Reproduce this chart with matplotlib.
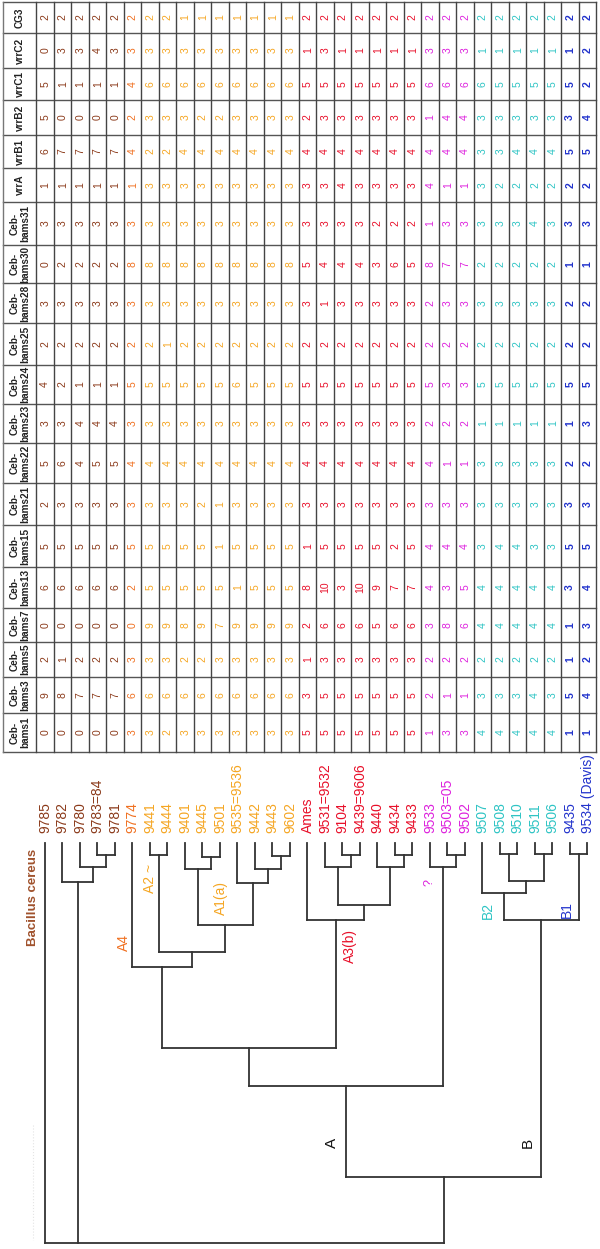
import numpy as np
import matplotlib.pyplot as plt

plt.rcParams['font.family'] = ['Liberation Sans', 'DejaVu Sans']

# strains (table columns, left to right) and their clade
strains = ['9785', '9782', '9780', '9783=84', '9781', '9774',
           '9441', '9444', '9401', '9445', '9501', '9535=9536', '9442', '9443', '9602',
           'Ames', '9531=9532', '9104', '9439=9606', '9440', '9434', '9433',
           '9533', '9503=05', '9502',
           '9507', '9508', '9510', '9511', '9506',
           '9435', '9534 (Davis)']
groups = ['cereus'] * 5 + ['A4'] + ['A1A2'] * 9 + ['A3'] * 7 + ['Q'] * 3 + ['B2'] * 5 + ['B1'] * 2

# table rows, top to bottom
markers = ['CG3', 'vrrC2', 'vrrC1', 'vrrB2', 'vrrB1', 'vrrA',
           'Ceb-\nbams31', 'Ceb-\nbams30', 'Ceb-\nbams28', 'Ceb-\nbams25', 'Ceb-\nbams24',
           'Ceb-\nbams23', 'Ceb-\nbams22', 'Ceb-\nbams21', 'Ceb-\nbams15', 'Ceb-\nbams13',
           'Ceb-\nbams7', 'Ceb-\nbams5', 'Ceb-\nbams3', 'Ceb-\nbams1']

cg3 =    [2, 2, 2, 2, 2, 2, 2, 2, 1, 1, 1, 1, 1, 1, 1, 2, 2, 2, 2, 2, 2, 2, 2, 2, 2, 2, 2, 2, 2, 2, 2, 2]
vrrc2 =  [0, 3, 3, 4, 3, 3, 3, 3, 3, 3, 3, 3, 3, 3, 3, 1, 3, 1, 1, 1, 1, 1, 3, 3, 3, 1, 1, 1, 1, 1, 1, 2]
vrrc1 =  [5, 1, 1, 1, 1, 4, 6, 6, 6, 6, 6, 6, 6, 6, 6, 5, 5, 5, 5, 5, 5, 5, 6, 6, 6, 6, 5, 5, 5, 5, 5, 2]
vrrb2 =  [5, 0, 0, 0, 0, 2, 3, 3, 3, 2, 2, 3, 3, 3, 3, 2, 3, 3, 3, 3, 3, 3, 1, 4, 4, 3, 3, 3, 3, 3, 3, 4]
vrrb1 =  [6, 7, 7, 7, 7, 4, 2, 2, 4, 4, 4, 4, 4, 4, 4, 4, 4, 4, 4, 4, 4, 4, 4, 4, 4, 3, 3, 4, 4, 4, 5, 5]
vrra =   [1, 1, 1, 1, 1, 1, 3, 3, 3, 3, 3, 3, 3, 3, 3, 3, 3, 4, 3, 3, 3, 3, 4, 1, 1, 3, 2, 2, 2, 2, 2, 2]
bams31 = [3, 3, 3, 3, 3, 3, 3, 3, 3, 3, 3, 3, 3, 3, 3, 3, 3, 3, 3, 2, 2, 2, 1, 3, 3, 3, 3, 3, 4, 3, 3, 3]
bams30 = [0, 2, 2, 2, 2, 8, 8, 8, 8, 8, 8, 8, 8, 8, 8, 5, 4, 4, 4, 3, 6, 5, 8, 7, 7, 2, 2, 2, 2, 2, 1, 1]
bams28 = [3, 3, 3, 3, 3, 3, 3, 3, 3, 3, 3, 3, 3, 3, 3, 3, 1, 3, 3, 3, 3, 3, 2, 3, 3, 3, 3, 3, 3, 3, 2, 2]
bams25 = [2, 2, 2, 2, 2, 2, 2, 1, 2, 2, 2, 2, 2, 2, 2, 2, 2, 2, 2, 2, 2, 2, 2, 2, 2, 2, 2, 2, 2, 2, 2, 2]
bams24 = [4, 2, 1, 1, 1, 5, 5, 5, 5, 5, 5, 6, 5, 5, 5, 5, 5, 5, 5, 5, 5, 5, 5, 3, 3, 5, 5, 5, 5, 5, 5, 5]
bams23 = [3, 3, 4, 4, 4, 3, 3, 3, 3, 3, 3, 3, 3, 3, 3, 3, 3, 3, 3, 3, 3, 3, 2, 2, 2, 1, 1, 1, 1, 1, 1, 3]
bams22 = [5, 6, 4, 5, 5, 4, 4, 4, 4, 4, 4, 4, 4, 4, 4, 4, 4, 4, 4, 4, 4, 4, 4, 1, 1, 3, 3, 3, 3, 3, 2, 2]
bams21 = [2, 3, 3, 3, 3, 3, 3, 3, 3, 2, 1, 3, 3, 3, 3, 3, 3, 3, 3, 3, 3, 3, 3, 3, 3, 3, 3, 3, 3, 3, 3, 3]
bams15 = [5, 5, 5, 5, 5, 5, 5, 5, 5, 5, 1, 5, 5, 5, 5, 1, 5, 5, 5, 5, 2, 5, 4, 4, 4, 3, 4, 4, 3, 3, 5, 5]
bams13 = [6, 6, 6, 6, 6, 2, 5, 5, 5, 5, 5, 1, 5, 5, 5, 8, 10, 3, 10, 9, 7, 7, 4, 3, 5, 4, 4, 4, 4, 4, 3, 4]
bams7 =  [0, 0, 0, 0, 0, 0, 9, 9, 8, 9, 7, 9, 9, 9, 9, 2, 6, 6, 6, 5, 6, 6, 3, 8, 6, 4, 4, 4, 4, 4, 1, 3]
bams5 =  [2, 1, 2, 2, 2, 3, 3, 3, 2, 2, 3, 3, 3, 3, 3, 1, 3, 3, 3, 3, 3, 3, 2, 2, 2, 2, 2, 2, 2, 2, 1, 2]
bams3 =  [9, 8, 7, 7, 7, 6, 6, 6, 6, 6, 6, 6, 6, 6, 6, 3, 5, 5, 5, 5, 5, 5, 2, 1, 1, 3, 3, 3, 4, 3, 5, 4]
bams1 =  [0, 0, 0, 0, 0, 3, 3, 2, 3, 3, 3, 3, 3, 3, 3, 5, 5, 5, 5, 5, 5, 5, 1, 3, 3, 4, 4, 4, 4, 4, 1, 1]
table = [cg3, vrrc2, vrrc1, vrrb2, vrrb1, vrra, bams31, bams30, bams28, bams25, bams24,
         bams23, bams22, bams21, bams15, bams13, bams7, bams5, bams3, bams1]

# dendrogram: (children, merge distance)
brown = (['9782', (['9780', (['9783=84', '9781'], 3)], 6)], 9.75)
a1 = ([(['9401', (['9445', '9501'], 3.5)], 6.5),
       (['9535=9536', (['9442', (['9443', '9602'], 3.25)], 6.5)], 10)], 20.5)
a4 = (['9774', ([(['9441', '9444'], 3), a1], 27.25)], 31)
a3 = (['Ames', ([(['9531=9532', (['9104', '9439=9606'], 3)], 6),
                 (['9440', (['9434', '9433'], 3)], 6)], 15.5)], 19.25)
qgrp = (['9533', (['9503=05', '9502'], 3)], 6)
clade_a = ([([a4, a3], 51.25), qgrp], 60.75)
b2 = (['9507', ([(['9508', '9510'], 2.75), (['9511', '9506'], 2.75)], 9.5)], 12.5)
b1 = (['9435', '9534 (Davis)'], 2.75)
clade_b = ([b2, b1], 19.25)
tree = (['9785', brown, ([clade_a, clade_b], 83.5)], 100)

colors = {'cereus': '#8b3a1a', 'A4': '#f07020', 'A1A2': '#f5a623', 'A3': '#e8102a',
          'Q': '#dd22dd', 'B2': '#2ec4c4', 'B1': '#2233cc'}

# layout (pixels)
W, H = 600, 1249
TX0, HX, PITCH = 3, 36, 17.5
row_edges = [2, 33, 68, 100, 135, 168, 202, 245, 283, 323, 365, 404, 443, 483,
             525, 567, 608, 642, 677, 713, 752]
LEAF_Y, DSCALE, LABEL_Y = 843, 4.0, 833
LINE = '#333333'

fig = plt.figure(figsize=(W / 100, H / 100), dpi=100)
ax = fig.add_axes([0, 0, 1, 1])
ax.set_xlim(0, W)
ax.set_ylim(H, 0)
ax.axis('off')

n = len(strains)
xc = {s: HX + PITCH * (i + 0.5) for i, s in enumerate(strains)}
xr = HX + PITCH * n

# table grid
for y in row_edges:
    ax.plot([TX0, xr], [y, y], color='#555555', lw=1.0)
ax.plot([TX0, TX0], [row_edges[0], row_edges[-1]], color='#777777', lw=1.0)
for i in range(n + 1):
    x = HX + PITCH * i
    ax.plot([x, x], [row_edges[0], row_edges[-1]], color='#444444', lw=1.0)

for r, (m, vals) in enumerate(zip(markers, table)):
    yc = (row_edges[r] + row_edges[r + 1]) / 2
    ax.text((TX0 + HX) / 2 + 0.5, yc, m, rotation=90, ha='center', va='center',
            fontsize=7.2, fontweight='bold', color='#222222', linespacing=1.0)
    for i, v in enumerate(vals):
        g = groups[i]
        ax.text(xc[strains[i]] + 0.5, yc, str(v), rotation=90, ha='center', va='center',
                fontsize=7.5, color=colors[g], fontweight='bold' if g == 'B1' else 'normal')

# strain labels
for s, g in zip(strains, groups):
    ax.text(xc[s] + 0.5, LABEL_Y, s, rotation=90, ha='center', va='bottom',
            fontsize=10, color=colors[g])


def ypix(d):
    return LEAF_Y + d * DSCALE


def draw(node):
    if isinstance(node, str):
        return xc[node], 0.0
    children, h = node
    pts = [draw(c) for c in children]
    for cx, cd in pts:
        ax.plot([cx, cx], [ypix(cd), ypix(h)], color=LINE, lw=1.3, solid_capstyle='projecting')
    ax.plot([pts[0][0], pts[-1][0]], [ypix(h), ypix(h)], color=LINE, lw=1.3,
            solid_capstyle='projecting')
    return (pts[0][0] + pts[-1][0]) / 2, h


draw(tree)

# clade labels
ax.text(33, 897, 'Bacillus cereus', rotation=90, ha='center', va='center',
        fontsize=9.5, fontweight='bold', color='#a0522d')
ax.text(150, 878, 'A2 ~', rotation=90, ha='center', va='center', fontsize=10, color=colors['A1A2'])
ax.text(221, 898, 'A1(a)', rotation=90, ha='center', va='center', fontsize=10, color=colors['A1A2'])
ax.text(124, 942, 'A4', rotation=90, ha='center', va='center', fontsize=10, color=colors['A4'])
ax.text(350, 946, 'A3(b)', rotation=90, ha='center', va='center', fontsize=10, color=colors['A3'])
ax.text(430, 882, '?', rotation=90, ha='center', va='center', fontsize=9, color=colors['Q'])
ax.text(488, 910, 'B2', rotation=90, ha='center', va='center', fontsize=10, color=colors['B2'])
ax.text(567, 910, 'B1', rotation=90, ha='center', va='center', fontsize=10, color=colors['B1'])
ax.text(332, 1143, 'A', rotation=90, ha='center', va='center', fontsize=11, color='#111111')
ax.text(528, 1143, 'B', rotation=90, ha='center', va='center', fontsize=11, color='#111111')
ax.plot([33, 33], [1125, 1240], color='#e4e4e4', lw=0.8, ls=':')

fig.savefig('out.png', dpi=100)
